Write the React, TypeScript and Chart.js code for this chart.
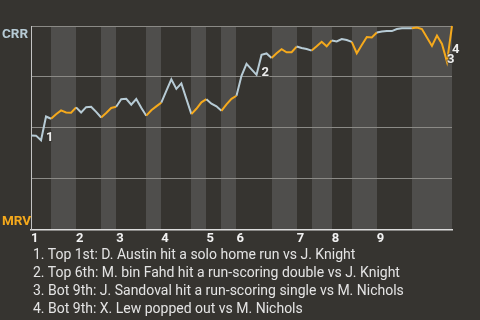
import React, { useEffect, useRef } from "react";
import { Chart, registerables } from "chart.js";

Chart.register(...registerables);

// ---- data ----
const awayTeam = "CRR";
const homeTeam = "MRV";
const inningLabels = ["1", "2", "3", "4", "5", "6", "7", "8", "9"];
// plate-appearance index where each half inning starts
const topHalfStarts = [0, 9, 17, 26, 35, 41, 53, 60, 69];
const bottomHalfStarts = [4, 14, 23, 32, 38, 48, 56, 64, 76];
const lastPlay = 84;
// CRR win probability (%) after each plate appearance
const crrWinPct = [
  46.2, 46.1, 43.8, 55.5, 54.4, 56.6, 58.5, 57.5, 57.4, 60.0,
  57.5, 60.1, 60.3, 57.8, 55.0, 57.2, 59.7, 60.3, 64.0, 64.2,
  61.3, 64.1, 59.8, 55.9, 58.6, 60.5, 62.3, 68.1, 73.8, 69.1,
  71.8, 64.2, 56.7, 59.3, 62.5, 64.0, 61.8, 60.5, 58.3, 61.5,
  64.2, 65.7, 75.5, 81.4, 78.7, 76.0, 85.8, 86.5, 84.3, 86.6,
  88.6, 87.1, 87.1, 89.9, 89.2, 88.7, 87.9, 90.0, 92.2, 90.0,
  92.9, 92.4, 93.6, 93.1, 92.2, 86.6, 90.7, 94.6, 94.4, 96.8,
  97.3, 97.5, 97.5, 98.5, 98.9, 98.9, 98.9, 99.2, 98.5, 94.4,
  90.2, 95.3, 91.2, 82.4, 100,
];
const eventIndices = [3, 46, 83, 84];
const eventNotes = [
  "1. Top 1st: D. Austin hit a solo home run vs J. Knight",
  "2. Top 6th: M. bin Fahd hit a run-scoring double vs J. Knight",
  "3. Bot 9th: J. Sandoval hit a run-scoring single vs M. Nichols",
  "4. Bot 9th: X. Lew popped out vs M. Nichols",
];

// ---- styles ----
const BG = "#363430";
const BAND = "#4f4e4c";
const AWAY_COLOR = "#b7cbd5";
const HOME_COLOR = "#f5a91c";
const FONT = "Roboto";

function isBottomHalf(mid: number): boolean {
  for (let k = 0; k < bottomHalfStarts.length; k++) {
    const end = k + 1 < topHalfStarts.length ? topHalfStarts[k + 1] : lastPlay;
    if (mid > bottomHalfStarts[k] && mid < end) return true;
  }
  return false;
}

const bandsPlugin = {
  id: "bands",
  beforeDraw(chart: any) {
    const { ctx, chartArea, scales } = chart;
    const xs = scales.x;
    ctx.save();
    ctx.fillStyle = BAND;
    for (let k = 0; k < bottomHalfStarts.length; k++) {
      const end = k + 1 < topHalfStarts.length ? topHalfStarts[k + 1] : lastPlay;
      const x0 = Math.round(xs.getPixelForValue(bottomHalfStarts[k]));
      const x1 = Math.round(xs.getPixelForValue(end));
      ctx.fillRect(x0, chartArea.top, x1 - x0, chartArea.bottom - chartArea.top);
    }
    ctx.restore();
  },
};

const teamLabelsPlugin = {
  id: "teamLabels",
  afterDraw(chart: any) {
    const { ctx, scales } = chart;
    const ys = scales.y;
    ctx.save();
    ctx.font = `bold 13.5px ${FONT}`;
    ctx.textAlign = "left";
    ctx.textBaseline = "alphabetic";
    ctx.fillStyle = AWAY_COLOR;
    ctx.fillText(awayTeam, 2, ys.getPixelForValue(100) + 12);
    ctx.fillStyle = HOME_COLOR;
    ctx.fillText(homeTeam, 2, ys.getPixelForValue(0) - 4);
    ctx.restore();
  },
};

const eventLabelsPlugin = {
  id: "eventLabels",
  afterDatasetsDraw(chart: any) {
    const { ctx, scales } = chart;
    const xs = scales.x;
    const ys = scales.y;
    ctx.save();
    ctx.font = `bold 13px ${FONT}`;
    ctx.textAlign = "left";
    ctx.textBaseline = "middle";
    let prev: { x: number; y: number } | null = null;
    eventIndices.forEach((e, n) => {
      const x = xs.getPixelForValue(e);
      const lowY = Math.max(
        ys.getPixelForValue(crrWinPct[e - 1]),
        ys.getPixelForValue(crrWinPct[e])
      );
      let y = lowY - 2.5;
      if (prev && Math.abs(prev.x - x) < 12 && Math.abs(prev.y - y) < 12) {
        y = prev.y - 9.5;
      }
      ctx.lineWidth = 2;
      ctx.strokeStyle = "rgba(54,52,48,0.6)";
      ctx.strokeText(String(n + 1), x, y);
      ctx.fillStyle = "#ececec";
      ctx.fillText(String(n + 1), x, y);
      prev = { x, y };
    });
    ctx.restore();
  },
};

export default function App() {
  const canvasRef = useRef<HTMLCanvasElement | null>(null);

  useEffect(() => {
    const canvas = canvasRef.current;
    if (!canvas) return;
    const chart = new Chart(canvas, {
      type: "line",
      data: {
        datasets: [
          {
            data: crrWinPct.map((v, i) => ({ x: i, y: v })),
            borderWidth: 2,
            pointRadius: 0,
            tension: 0,
            clip: 6,
            borderColor: AWAY_COLOR,
            segment: {
              borderColor: (c: any) =>
                isBottomHalf((c.p0DataIndex + c.p1DataIndex) / 2) ? HOME_COLOR : AWAY_COLOR,
            },
          },
        ],
      },
      options: {
        responsive: false,
        animation: false,
        devicePixelRatio: 1,
        layout: { padding: { left: 31, top: 26, right: 28, bottom: 1 } },
        plugins: { legend: { display: false }, tooltip: { enabled: false } },
        scales: {
          x: {
            type: "linear",
            min: 0,
            max: lastPlay,
            grid: { display: false, drawTicks: false },
            border: { display: true, color: "#dcdcdc", width: 1.5 },
            afterBuildTicks: (axis: any) => {
              axis.ticks = topHalfStarts.map((v) => ({ value: v }));
            },
            ticks: {
              autoSkip: false,
              maxRotation: 0,
              align: "start",
              padding: 2,
              color: "#f2f2f2",
              font: { family: FONT, size: 13, weight: "bold" },
              callback: (_v: any, i: number) => inningLabels[i],
            },
          },
          y: {
            min: 0,
            max: 100,
            ticks: { display: false, stepSize: 25 },
            grid: {
              drawTicks: false,
              color: (c: any) => (c.tick && c.tick.value === 0 ? "rgba(0,0,0,0)" : "#8b8a86"),
              lineWidth: 1,
            },
            border: { display: true, color: "#c4c4c4", width: 1 },
          },
        },
      },
      plugins: [bandsPlugin, teamLabelsPlugin, eventLabelsPlugin],
    });
    return () => chart.destroy();
  }, []);

  return (
    <div
      style={{
        position: "absolute",
        left: 0,
        top: 0,
        width: 480,
        height: 320,
        background: BG,
        overflow: "hidden",
      }}
    >
      <canvas ref={canvasRef} width={480} height={250} style={{ position: "absolute", left: 0, top: 0 }} />
      <div
        style={{
          position: "absolute",
          left: 33,
          top: 245,
          fontFamily: FONT,
          fontSize: "14px",
          lineHeight: "18px",
          color: "#e4e4e4",
          whiteSpace: "nowrap",
        }}
      >
        {eventNotes.map((t) => (
          <div key={t}>{t}</div>
        ))}
      </div>
    </div>
  );
}
